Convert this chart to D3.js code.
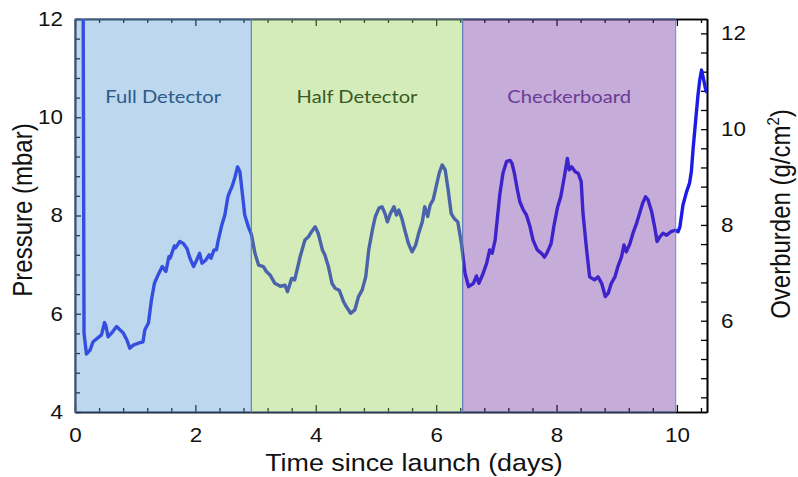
<!DOCTYPE html>
<html>
<head>
<meta charset="utf-8">
<script src="https://cdn.jsdelivr.net/npm/d3@7"></script>
<style>
  html, body { margin: 0; padding: 0; background: #fff; }
  svg { display: block; }
</style>
</head>
<body>
<svg id="chart" width="798" height="477"></svg>
<script>
// ---------------- data ----------------
const days = [0.135, 0.15, 0.19, 0.25, 0.30, 0.39, 0.44, 0.49, 0.51, 0.55, 0.61, 0.69, 0.75, 0.80, 0.86, 0.91, 0.97, 1.05, 1.13, 1.16, 1.22, 1.27, 1.32, 1.38, 1.45, 1.51, 1.56, 1.58, 1.65, 1.67, 1.74, 1.80, 1.86, 1.91, 1.97, 2.02, 2.07, 2.11, 2.17, 2.23, 2.26, 2.31, 2.35, 2.38, 2.44, 2.49, 2.54, 2.57, 2.61, 2.66, 2.70, 2.74, 2.78, 2.82, 2.88, 2.93, 2.99, 3.05, 3.13, 3.18, 3.24, 3.32, 3.41, 3.49, 3.53, 3.60, 3.65, 3.74, 3.82, 3.88, 3.93, 3.99, 4.04, 4.11, 4.15, 4.21, 4.27, 4.32, 4.39, 4.46, 4.51, 4.58, 4.65, 4.71, 4.77, 4.83, 4.88, 4.94, 4.99, 5.05, 5.10, 5.15, 5.19, 5.24, 5.30, 5.34, 5.38, 5.43, 5.48, 5.54, 5.60, 5.66, 5.71, 5.77, 5.81, 5.86, 5.90, 5.95, 6.00, 6.05, 6.10, 6.15, 6.20, 6.25, 6.30, 6.36, 6.42, 6.48, 6.54, 6.62, 6.67, 6.71, 6.78, 6.84, 6.89, 6.93, 6.98, 7.02, 7.06, 7.11, 7.17, 7.23, 7.26, 7.30, 7.35, 7.39, 7.45, 7.50, 7.56, 7.61, 7.68, 7.75, 7.80, 7.85, 7.91, 7.96, 8.02, 8.07, 8.13, 8.18, 8.21, 8.25, 8.31, 8.36, 8.41, 8.44, 8.50, 8.55, 8.63, 8.69, 8.75, 8.81, 8.86, 8.91, 8.97, 9.02, 9.08, 9.12, 9.16, 9.22, 9.27, 9.33, 9.39, 9.43, 9.48, 9.52, 9.58, 9.63, 9.67, 9.72, 9.77, 9.83, 9.90, 9.97, 10.02, 10.05, 10.10, 10.16, 10.21, 10.24, 10.27, 10.31, 10.35, 10.38, 10.41, 10.44, 10.48, 10.50];
const pressure = [12.6, 5.6, 5.18, 5.26, 5.43, 5.52, 5.57, 5.82, 5.77, 5.53, 5.61, 5.74, 5.67, 5.61, 5.47, 5.30, 5.36, 5.40, 5.43, 5.67, 5.81, 6.28, 6.62, 6.79, 6.96, 6.86, 7.16, 7.13, 7.38, 7.34, 7.47, 7.43, 7.33, 7.13, 6.96, 7.09, 7.23, 7.03, 7.09, 7.20, 7.13, 7.30, 7.30, 7.50, 7.81, 8.01, 8.38, 8.48, 8.59, 8.79, 8.99, 8.89, 8.45, 8.01, 7.77, 7.62, 7.23, 6.99, 6.96, 6.86, 6.79, 6.62, 6.56, 6.58, 6.45, 6.72, 6.69, 7.16, 7.50, 7.57, 7.67, 7.77, 7.64, 7.30, 7.20, 6.96, 6.62, 6.52, 6.48, 6.25, 6.14, 6.01, 6.08, 6.35, 6.48, 6.75, 7.30, 7.70, 7.98, 8.15, 8.18, 8.04, 7.87, 8.04, 8.18, 8.01, 8.11, 7.94, 7.70, 7.43, 7.26, 7.40, 7.64, 7.87, 8.18, 7.98, 8.21, 8.32, 8.59, 8.86, 9.03, 8.93, 8.52, 8.04, 7.94, 7.87, 7.43, 6.82, 6.55, 6.62, 6.77, 6.62, 6.82, 7.03, 7.30, 7.23, 7.50, 7.98, 8.45, 8.86, 9.10, 9.12, 9.06, 8.86, 8.52, 8.28, 8.11, 8.01, 7.77, 7.50, 7.30, 7.23, 7.15, 7.26, 7.43, 7.81, 8.18, 8.38, 8.79, 9.16, 8.93, 8.99, 8.89, 8.86, 8.69, 8.04, 7.30, 6.75, 6.69, 6.75, 6.62, 6.35, 6.42, 6.62, 6.75, 6.96, 7.16, 7.40, 7.26, 7.43, 7.64, 7.84, 8.08, 8.25, 8.38, 8.32, 8.08, 7.77, 7.47, 7.57, 7.64, 7.60, 7.67, 7.70, 7.67, 7.77, 8.21, 8.48, 8.66, 8.89, 9.37, 9.91, 10.45, 10.76, 10.96, 10.79, 10.55, 10.50];

const regionNames = ["Full Detector", "Half Detector", "Checkerboard"];
const regionStart = [0, 2.93, 6.44];
const regionEnd   = [2.93, 6.44, 9.98];

const xTickLabels = [0, 2, 4, 6, 8, 10];
const yLeftTickLabels = [4, 6, 8, 10, 12];
const yRightTickLabels = [6, 8, 10, 12];

const xTitle = "Time since launch (days)";
const yLeftTitle = "Pressure (mbar)";
const yRightTitle = "Overburden (g/cm";

// ---------------- styles ----------------
const regionFill = ["#5a9bd5", "#92d050", "#7030a0"];
const regionText = ["#2e5b88", "#3b5a23", "#6a3b95"];
const lineColor = "#1c1ce6";
const SX = 1.12; // horizontal stretch of text

// ---------------- layout ----------------
const L = 75, R = 707, T = 19, B = 412;
const svg = d3.select("#chart");

const x = d3.scaleLinear().domain([0, 10.5]).range([L, R]);
const yL = d3.scaleLinear().domain([4, 12]).range([B, T]);
const yR = d3.scaleLinear().domain([4.094, 12.30]).range([B, T]);

const minorX = d3.range(0, 10.5001, 0.4).filter(v => Math.abs(v/2 - Math.round(v/2)) > 1e-6);
const minorYL = d3.range(4, 12.0001, 0.4).filter(v => Math.abs(v/2 - Math.round(v/2)) > 1e-6);
const minorYR = d3.range(4.4, 12.3, 0.4).filter(v => Math.abs(v/2 - Math.round(v/2)) > 1e-6);

function stretchLabels(g) {
  g.selectAll(".tick text").each(function() {
    const t = d3.select(this);
    const tx = +t.attr("x") || 0, ty = +t.attr("y") || 0;
    t.attr("x", 0).attr("y", 0).attr("transform", `translate(${tx},${ty}) scale(${SX},1)`);
  });
}
function styleAxis(g) {
  g.select(".domain").attr("stroke", "#000").attr("stroke-width", 1.6);
  g.selectAll(".tick line").attr("stroke", "#000").attr("stroke-width", 1.3);
  g.selectAll(".tick text")
    .attr("font-family", "'Liberation Sans', Arial, sans-serif")
    .attr("font-size", 20).attr("fill", "#111");
}

// bottom axis
const gxMinor = svg.append("g").attr("transform", `translate(0,${B})`)
  .call(d3.axisBottom(x).tickValues(minorX).tickFormat("").tickSizeInner(-4).tickSizeOuter(0));
styleAxis(gxMinor);
const gx = svg.append("g").attr("transform", `translate(0,${B})`)
  .call(d3.axisBottom(x).tickValues(xTickLabels).tickFormat(d3.format("d")).tickSizeInner(-7).tickSizeOuter(0).tickPadding(16));
styleAxis(gx); stretchLabels(gx);

// top axis
const gtMinor = svg.append("g").attr("transform", `translate(0,${T})`)
  .call(d3.axisTop(x).tickValues(minorX).tickFormat("").tickSizeInner(-4).tickSizeOuter(0));
styleAxis(gtMinor);
const gt = svg.append("g").attr("transform", `translate(0,${T})`)
  .call(d3.axisTop(x).tickValues(xTickLabels).tickFormat("").tickSizeInner(-7).tickSizeOuter(0));
styleAxis(gt);

// left axis
const gyMinor = svg.append("g").attr("transform", `translate(${L},0)`)
  .call(d3.axisLeft(yL).tickValues(minorYL).tickFormat("").tickSizeInner(-5).tickSizeOuter(0));
styleAxis(gyMinor);
const gy = svg.append("g").attr("transform", `translate(${L},0)`)
  .call(d3.axisLeft(yL).tickValues(yLeftTickLabels).tickFormat(d3.format("d")).tickSizeInner(-6).tickSizeOuter(0).tickPadding(12));
styleAxis(gy); stretchLabels(gy);

// right axis
const gyrMinor = svg.append("g").attr("transform", `translate(${R},0)`)
  .call(d3.axisRight(yR).tickValues(minorYR).tickFormat("").tickSizeInner(-6).tickSizeOuter(0));
styleAxis(gyrMinor);
const gyr = svg.append("g").attr("transform", `translate(${R},0)`)
  .call(d3.axisRight(yR).tickValues(yRightTickLabels).tickFormat(d3.format("d")).tickSizeInner(-6).tickSizeOuter(0).tickPadding(14));
styleAxis(gyr); stretchLabels(gyr);

// clip
svg.append("clipPath").attr("id", "plotclip")
  .append("rect").attr("x", L).attr("y", T).attr("width", R - L).attr("height", B - T);

// data line
const series = days.map((d, i) => ({ d, p: pressure[i] }));
svg.append("path")
  .datum(series)
  .attr("clip-path", "url(#plotclip)")
  .attr("fill", "none")
  .attr("stroke", lineColor)
  .attr("stroke-width", 3.4)
  .attr("stroke-linejoin", "round")
  .attr("d", d3.line().x(v => x(v.d)).y(v => yL(v.p)));

// translucent region overlays
svg.append("g").selectAll("rect")
  .data(regionNames)
  .join("rect")
  .attr("x", (n, i) => x(regionStart[i]))
  .attr("y", T)
  .attr("width", (n, i) => x(regionEnd[i]) - x(regionStart[i]))
  .attr("height", B - T)
  .attr("fill", (n, i) => regionFill[i])
  .attr("fill-opacity", 0.4)
  .attr("stroke", "#5b7db8")
  .attr("stroke-opacity", 0.85)
  .attr("stroke-width", 1);

// region labels
svg.append("g").selectAll("text")
  .data(regionNames)
  .join("text")
  .attr("transform", (n, i) => `translate(${(x(regionStart[i]) + x(regionEnd[i])) / 2},103) scale(${SX},1)`)
  .attr("text-anchor", "middle")
  .attr("font-family", "Lato, 'Open Sans', sans-serif")
  .attr("font-size", 18)
  .attr("fill", (n, i) => regionText[i])
  .text(n => n);

// axis titles
const titleFont = "'Liberation Sans', Arial, sans-serif";
svg.append("text")
  .attr("transform", `translate(414,471) scale(${SX},1)`)
  .attr("text-anchor", "middle")
  .attr("font-family", titleFont).attr("font-size", 24).attr("fill", "#111")
  .text(xTitle);

svg.append("text")
  .attr("transform", `translate(32,210) rotate(-90) scale(1,${SX})`)
  .attr("text-anchor", "middle")
  .attr("font-family", titleFont).attr("font-size", 24).attr("fill", "#111")
  .text(yLeftTitle);

const rt = svg.append("text")
  .attr("transform", `translate(790,214) rotate(-90) scale(1,${SX})`)
  .attr("text-anchor", "middle")
  .attr("font-family", titleFont).attr("font-size", 24).attr("fill", "#111");
rt.append("tspan").text(yRightTitle);
rt.append("tspan").attr("dy", -10).attr("font-size", 15).text("2");
rt.append("tspan").attr("dy", 10).text(")");
</script>
</body>
</html>
